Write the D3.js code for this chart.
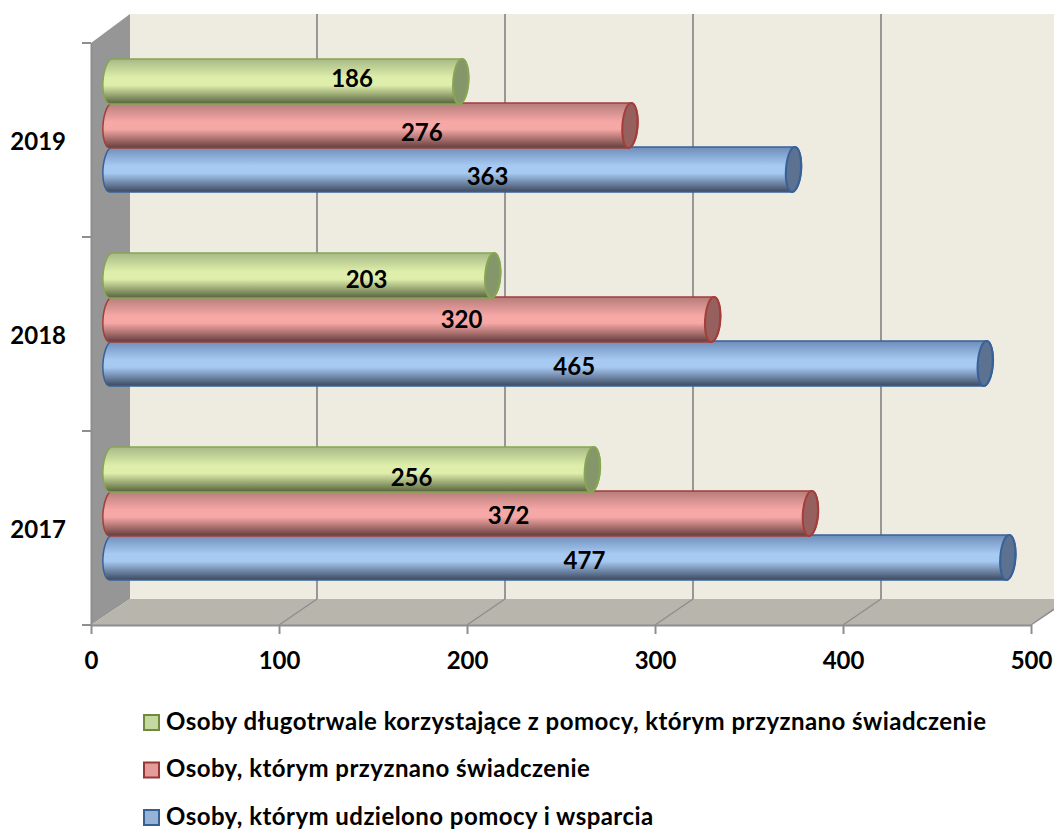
<!DOCTYPE html>
<html>
<head>
<meta charset="utf-8">
<script src="https://cdn.jsdelivr.net/npm/d3@7"></script>
<style>
  html, body { margin: 0; background: #fff; }
  svg { display: block; }
  text { font-family: Lato, "Open Sans", sans-serif; font-weight: 700; fill: #000; }
</style>
</head>
<body>
<svg width="1054" height="830"></svg>
<script>
// DATA
var years = ['2019', '2018', '2017'];
var seriesNames = [
  'Osoby długotrwale korzystające z pomocy, którym przyznano świadczenie',
  'Osoby, którym przyznano świadczenie',
  'Osoby, którym udzielono pomocy i wsparcia'
];
var longTermValues = [186, 203, 256];
var grantedValues = [276, 320, 372];
var helpedValues = [363, 465, 477];
var xTicks = [0, 100, 200, 300, 400, 500];

// colours per series: top, middle, bottom of the tube, cap, outline, swatch
var colors = [
  { top: '#a8b987', mid: '#dfefab', bottom: '#56633d', cap: '#84966a', line: '#86a653', swatch: '#c5d8a0', edge: '#6f8a3c' },
  { top: '#b57c7a', mid: '#f6a8a6', bottom: '#633d3b', cap: '#96605f', line: '#a33e3b', swatch: '#e39c9a', edge: '#953735' },
  { top: '#6c8db8', mid: '#a7caf3', bottom: '#3c4960', cap: '#5d7191', line: '#386199', swatch: '#95b3d7', edge: '#376092' }
];
var allValues = [longTermValues, grantedValues, helpedValues];

var labelOffsetX = [194, 172, 179];
var labelSlope = [0.85, 0.905, 0.85];
var labelNudgeY = [[-3, 7, 7], [4, 0, 3], [8, 2, 3]];

var svg = d3.select('svg');

// front plane of the box
var x = d3.scaleLinear().domain([0, 500]).range([91, 1031]);
var y = d3.scaleBand().domain(years).range([43, 625]);
var depthX = 39, depthY = -26;

var barY = d3.scaleBand().domain(seriesNames).range([29, 161]);

var defs = svg.append('defs');
colors.forEach(function(c, i) {
  var grad = defs.append('linearGradient')
    .attr('id', 'tube' + i)
    .attr('x1', 0).attr('y1', 0).attr('x2', 0).attr('y2', 1);
  grad.append('stop').attr('offset', '0%').attr('stop-color', c.top);
  grad.append('stop').attr('offset', '42%').attr('stop-color', c.mid);
  grad.append('stop').attr('offset', '58%').attr('stop-color', c.mid);
  grad.append('stop').attr('offset', '100%').attr('stop-color', c.bottom);
});

// walls
var plotLeft = x(0), plotRight = x(500), plotTop = y.range()[0], plotBottom = y.range()[1];
var backTop = plotTop + depthY - 3, backBottom = plotBottom + depthY;
svg.append('rect')
  .attr('x', plotLeft + depthX).attr('y', backTop)
  .attr('width', 1054 - plotLeft - depthX).attr('height', backBottom - backTop)
  .attr('fill', '#eeece1');
svg.append('polygon')
  .attr('points', [[plotLeft, plotTop], [plotLeft + depthX, backTop], [plotLeft + depthX, backBottom], [plotLeft, plotBottom]].join(' '))
  .attr('fill', '#969696');
svg.append('polygon')
  .attr('points', [[plotLeft, plotBottom], [plotLeft + depthX, backBottom], [plotRight + depthX, backBottom], [plotRight, plotBottom]].join(' '))
  .attr('fill', '#b8b5ad');

// gridlines, back wall and floor
xTicks.slice(1).forEach(function(t) {
  svg.append('line')
    .attr('x1', x(t) + 38).attr('x2', x(t) + 38)
    .attr('y1', backTop).attr('y2', backBottom)
    .attr('stroke', '#979797').attr('stroke-width', 2);
  svg.append('line')
    .attr('x1', x(t)).attr('x2', x(t) + 38)
    .attr('y1', plotBottom).attr('y2', backBottom)
    .attr('stroke', '#8e8e8e').attr('stroke-width', 1.5);
});

// axes
var xAxis = svg.append('g')
  .attr('transform', 'translate(0,' + plotBottom + ')')
  .call(d3.axisBottom(x).tickValues(xTicks).tickSize(9).tickPadding(18).tickSizeOuter(0));
var yAxis = svg.append('g')
  .attr('transform', 'translate(' + plotLeft + ',0)')
  .call(d3.axisLeft(y).tickSize(0).tickPadding(25));
xAxis.attr('font-family', null).attr('font-size', 24);
yAxis.attr('font-family', null).attr('font-size', 24);
xAxis.selectAll('line').attr('stroke', '#8e8e8e').attr('stroke-width', 2);
xAxis.select('.domain').attr('stroke', '#8e8e8e').attr('stroke-width', 2);
yAxis.select('.domain').attr('stroke', '#8e8e8e').attr('stroke-width', 2);
yAxis.selectAll('text').attr('dy', '0.43em');

// category ticks sit on the band edges
years.concat(['end']).forEach(function(d, i) {
  var ty = i < years.length ? y(d) : plotBottom;
  svg.append('line')
    .attr('x1', plotLeft - 9).attr('x2', plotLeft)
    .attr('y1', ty).attr('y2', ty)
    .attr('stroke', '#8e8e8e').attr('stroke-width', 2);
});

// tubes, blue first so the upper ones overlap it
var rx = 8, tilt = 4, lean = 1.5;
var labels = [];
for (var s = seriesNames.length - 1; s >= 0; s--) {
  years.forEach(function(year, i) {
    var v = allValues[s][i];
    var c = colors[s];
    var y0 = y(year) + depthY / 2 + barY(seriesNames[s]);
    var h = barY.bandwidth() + 1;
    var ry = h / 2;
    var x0 = x(0) + 20;
    var x1 = x(v) + 20;
    var g = svg.append('g').attr('class', 'tube');
    g.append('path')
      .attr('d', 'M' + (x0 + lean) + ',' + y0 +
        'L' + (x1 + lean) + ',' + y0 +
        'A' + rx + ',' + ry + ' ' + tilt + ' 0 1 ' + (x1 - lean) + ',' + (y0 + h) +
        'L' + (x0 - lean) + ',' + (y0 + h) +
        'A' + rx + ',' + ry + ' ' + tilt + ' 0 1 ' + (x0 + lean) + ',' + y0 + 'Z')
      .attr('fill', 'url(#tube' + s + ')')
      .attr('stroke', c.line).attr('stroke-width', 1.5);
    g.append('ellipse')
      .attr('cx', x1).attr('cy', y0 + ry)
      .attr('rx', rx - 0.5).attr('ry', ry)
      .attr('transform', 'rotate(' + tilt + ' ' + x1 + ' ' + (y0 + ry) + ')')
      .attr('fill', c.cap)
      .attr('stroke', c.line).attr('stroke-width', 2);
    labels.push({
      text: v,
      x: labelOffsetX[s] + v * labelSlope[s],
      y: y0 + ry + labelNudgeY[i][s]
    });
  });
}

// value labels go on top of everything
svg.append('g').selectAll('text')
  .data(labels)
  .enter()
  .append('text')
  .attr('x', function(d) { return d.x; })
  .attr('y', function(d) { return d.y; })
  .attr('dy', '0.35em')
  .attr('text-anchor', 'middle')
  .attr('font-size', 24)
  .text(function(d) { return d.text; });

// legend
var legendY = d3.scalePoint().domain(seriesNames).range([722, 817]);
var legend = svg.append('g').selectAll('g')
  .data(seriesNames)
  .enter()
  .append('g')
  .attr('transform', function(d) { return 'translate(143,' + legendY(d) + ')'; });
legend.append('rect')
  .attr('x', 1).attr('y', -7)
  .attr('width', 15).attr('height', 15)
  .attr('fill', function(d, i) { return colors[i].swatch; })
  .attr('stroke', function(d, i) { return colors[i].edge; })
  .attr('stroke-width', 2);
legend.append('text')
  .attr('x', 23).attr('y', 0)
  .attr('dy', '0.33em')
  .attr('font-size', 24)
  .attr('letter-spacing', 0.45)
  .text(function(d) { return d; });
</script>
</body>
</html>
